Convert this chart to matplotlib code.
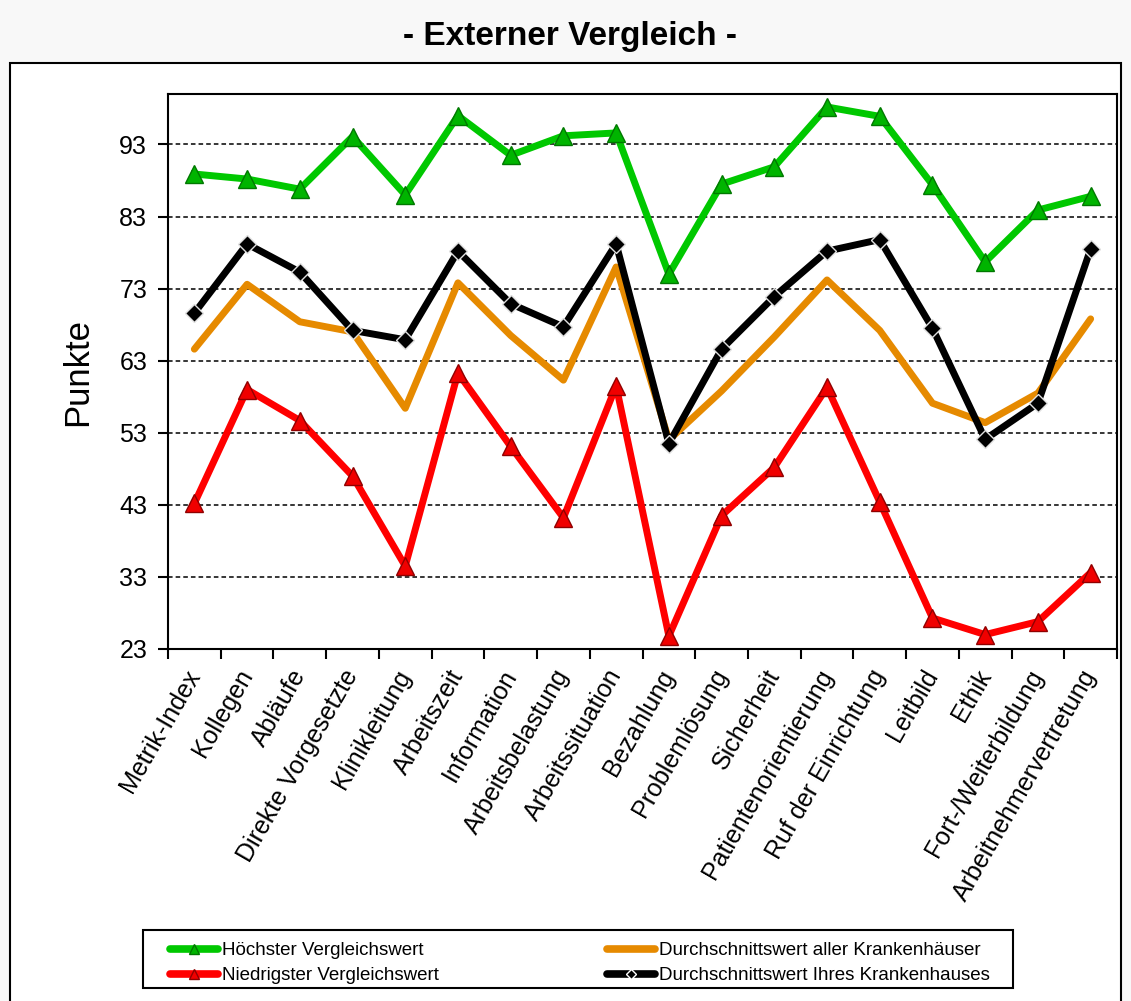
import matplotlib
matplotlib.use("Agg")
import matplotlib.pyplot as plt
from matplotlib.lines import Line2D
from matplotlib.patches import Rectangle

plt.rcParams["font.family"] = ["Liberation Sans", "DejaVu Sans"]

categories = [
    "Metrik-Index", "Kollegen", "Abläufe", "Direkte Vorgesetzte", "Klinikleitung",
    "Arbeitszeit", "Information", "Arbeitsbelastung", "Arbeitssituation", "Bezahlung",
    "Problemlösung", "Sicherheit", "Patientenorientierung", "Ruf der Einrichtung",
    "Leitbild", "Ethik", "Fort-/Weiterbildung", "Arbeitnehmervertretung",
]
hoechster = [88.9, 88.2, 86.8, 94.1, 86.0, 97.0, 91.5, 94.2, 94.6, 75.0,
             87.5, 89.9, 98.2, 96.9, 87.4, 76.7, 83.9, 85.8]
niedrigster = [43.2, 59.0, 54.7, 47.0, 34.5, 61.3, 51.1, 41.2, 59.5, 24.8,
               41.5, 48.2, 59.3, 43.4, 27.3, 25.0, 26.8, 33.6]
schnitt_alle = [64.6, 73.6, 68.4, 67.0, 56.4, 73.8, 66.5, 60.3, 76.0, 52.0,
                58.8, 66.3, 74.2, 67.2, 57.1, 54.4, 58.5, 68.8]
schnitt_ihres = [69.6, 79.2, 75.3, 67.2, 65.9, 78.2, 70.9, 67.7, 79.2, 51.5,
                 64.6, 71.9, 78.2, 79.8, 67.5, 52.1, 57.1, 78.5]
y_ticks = [23, 33, 43, 53, 63, 73, 83, 93]

GREEN = "#00c800"
ORANGE = "#e68a00"
RED = "#ff0000"

fig = plt.figure(figsize=(11.31, 10.01), dpi=100, facecolor="#f8f8f8")
# white chart frame
fig.patches.append(Rectangle((10 / 1131, -0.01), 1111 / 1131, 1 - 63 / 1001 + 0.01,
                             transform=fig.transFigure, facecolor="white",
                             edgecolor="black", linewidth=1.5, zorder=-2))
# legend frame
fig.patches.append(Rectangle((143 / 1131, 1 - 988 / 1001), 870 / 1131, 58 / 1001,
                             transform=fig.transFigure, facecolor="white",
                             edgecolor="black", linewidth=1.5, zorder=-1))
fig.text(570 / 1131, 1 - 37 / 1001, "- Externer Vergleich -", ha="center", va="center",
         fontsize=24, fontweight="bold")

ax = fig.add_axes([168 / 1131, 1 - 649 / 1001, 949 / 1131, 555 / 1001])
x = list(range(len(categories)))

ax.plot(x, schnitt_alle, color=ORANGE, lw=5, solid_capstyle="round", zorder=3)
ax.plot(x, schnitt_ihres, color="black", lw=5, marker="D", ms=9.5,
        mfc="black", mec="#e0e0e0", mew=1, zorder=4)
ax.plot(x, hoechster, color=GREEN, lw=5, marker="^", ms=13,
        mfc="#00b400", mec="#007800", mew=1, zorder=3)
ax.plot(x, niedrigster, color=RED, lw=5, marker="^", ms=13,
        mfc="#f00000", mec="#900000", mew=1, zorder=3)

ax.set_xlim(-0.5, len(categories) - 0.5)
ax.set_ylim(23, 100)
ax.set_yticks(y_ticks)
ax.tick_params(axis="y", labelsize=18, direction="out", length=7, width=1.5, pad=8)
ax.yaxis.grid(True, color="black", linestyle=(0, (3, 2)), linewidth=1.1)
ax.set_axisbelow(True)

ax.set_xticks(x)
ax.set_xticklabels(categories, rotation=60, ha="right", va="center",
                   rotation_mode="anchor", fontsize=18)
ax.set_xticks([i - 0.5 for i in range(len(categories) + 1)], minor=True)
ax.tick_params(axis="x", which="major", length=0, pad=16)
ax.tick_params(axis="x", which="minor", direction="out", length=7, width=1.5)
for s in ax.spines.values():
    s.set_linewidth(1.5)
ax.set_ylabel("Punkte", fontsize=25, labelpad=18)

handles = [
    Line2D([], [], color=GREEN, lw=5.5, solid_capstyle="round", marker="^", ms=7,
           mfc="#00b400", mec="#007800"),
    Line2D([], [], color=RED, lw=5.5, solid_capstyle="round", marker="^", ms=7,
           mfc="#f00000", mec="#900000"),
    Line2D([], [], color=ORANGE, lw=5.5, solid_capstyle="round"),
    Line2D([], [], color="black", lw=5.5, solid_capstyle="round", marker="D", ms=5,
           mfc="black", mec="white"),
]
labels = ["Höchster Vergleichswert", "Niedrigster Vergleichswert",
          "Durchschnittswert aller Krankenhäuser", "Durchschnittswert Ihres Krankenhauses"]
leg = fig.legend(handles, labels, ncol=2, loc="upper left",
                 bbox_to_anchor=(170 / 1131, 1 - 942 / 1001),
                 fontsize=13.5, frameon=False,
                 handlelength=2.56, handletextpad=0.2, borderpad=0,
                 labelspacing=0.42, borderaxespad=0, columnspacing=9.0)

fig.savefig("out.png", dpi=100, facecolor=fig.get_facecolor())
